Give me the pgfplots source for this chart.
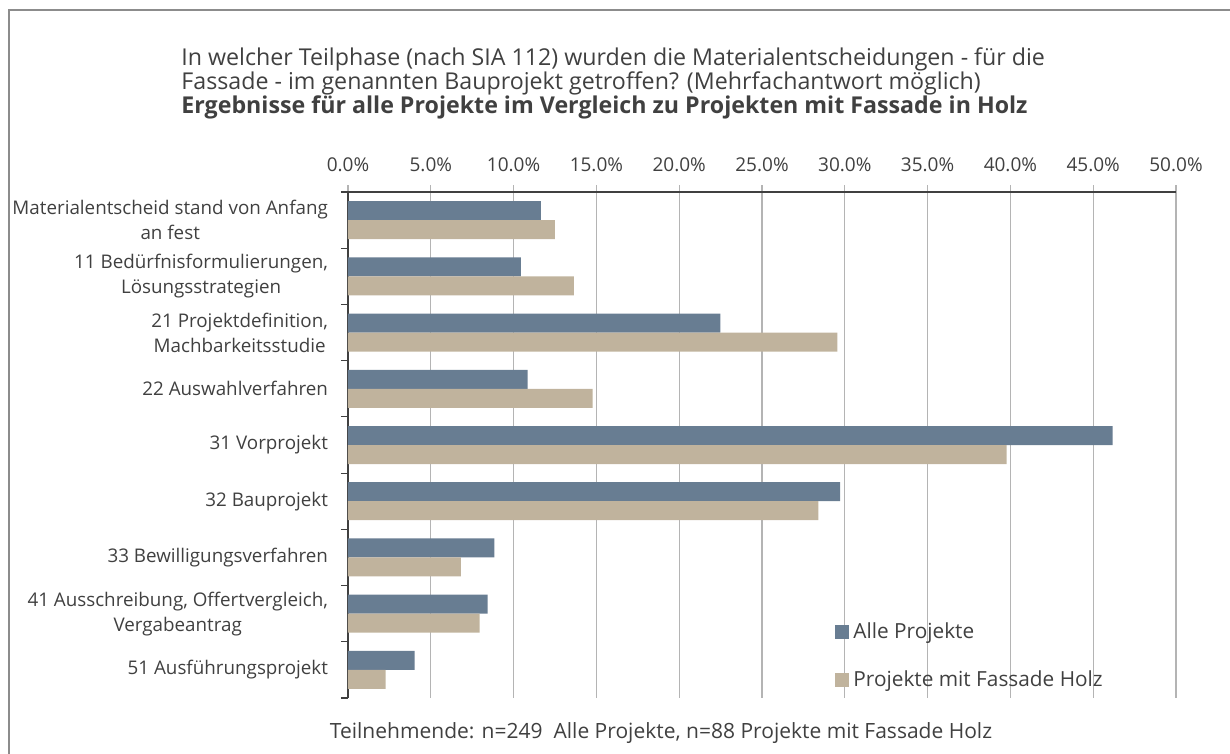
\documentclass[border=0pt]{standalone}
\usepackage{fontspec}
\setmainfont{Open Sans}
\usepackage{pgfplots}
\pgfplotsset{compat=1.18}
\definecolor{alle}{HTML}{687D92}
\definecolor{holz}{HTML}{C0B39D}
\definecolor{txt}{HTML}{404040}
\definecolor{gridc}{HTML}{B4B4B4}
\definecolor{frame}{HTML}{8C8C8C}
\begin{document}
\begin{tikzpicture}
\useasboundingbox (0,0) rectangle (615pt,377pt);
\draw[frame, line width=0.8pt] (4.5pt,-5pt) -- (4.5pt,372pt) -- (625pt,372pt);
\begin{axis}[
    at={(174pt,28pt)}, anchor=south west,
    scale only axis,
    width=414pt, height=253pt,
    xbar, bar width=9.5pt,
    xmin=0, xmax=50,
    ymin=-0.5, ymax=8.5,
    axis x line*=top, axis y line*=left,
    axis line style={txt, line width=0.7pt},
    xtick={0,5,...,50},
    xticklabel={\pgfmathprintnumber[fixed,fixed zerofill,precision=1]{\tick}\%},
    /pgf/number format/assume math mode=true,
    xticklabel style={font=\fontsize{9.5}{11}\selectfont, text=txt, yshift=3pt},
    xmajorgrids, grid style={gridc, line width=0.6pt},
    major tick length=3.5pt, tick align=outside,
    major x tick style={gridc, line width=0.6pt},
    ytick={0,...,8},
    major y tick style={draw=none},
    minor ytick={-0.5,0.5,...,8.5},
    minor y tick style={txt, line width=0.6pt},
    minor tick length=3.5pt,
    yticklabels={
      {51 Ausführungsprojekt},
      {41 Ausschreibung, Offertvergleich,\\Vergabeantrag},
      {33 Bewilligungsverfahren},
      {32 Bauprojekt},
      {31 Vorprojekt},
      {22 Auswahlverfahren},
      {21 Projektdefinition,\\Machbarkeitsstudie},
      {11 Bedürfnisformulierungen,\\Lösungsstrategien},
      {Materialentscheid stand von Anfang\\an fest}},
    yticklabel style={align=center, font=\fontsize{9.4}{12.5}\selectfont, text=txt, xshift=-3pt},
    legend cell align=left,
    legend style={at={(0.581,0.083)}, anchor=west, draw=none, fill=none,
      font=\fontsize{10.4}{12}\selectfont, text=txt, row sep=11pt},
    legend image code/.code={\fill[#1] (0pt,-3.5pt) rectangle (7pt,3.5pt);},
]
\addplot[draw=none, fill=alle, bar shift=4.75pt] coordinates {
  (4.02,0) (8.43,1) (8.84,2) (29.72,3) (46.18,4) (10.84,5) (22.49,6) (10.44,7) (11.65,8)
};
\addplot[draw=none, fill=holz, bar shift=-4.75pt] coordinates {
  (2.27,0) (7.95,1) (6.82,2) (28.41,3) (39.77,4) (14.77,5) (29.55,6) (13.64,7) (12.50,8)
};
\legend{Alle Projekte, Projekte mit Fassade Holz}
\end{axis}
\begin{scope}[font=\fontsize{11.6}{13}\selectfont, text=txt]
\node[anchor=base west, inner sep=0pt] at (90.5pt,344pt) {In welcher Teilphase (nach SIA 112) wurden die Materialentscheidungen - für die};
\node[anchor=base west, inner sep=0pt] at (90.5pt,332pt) {Fassade - im genannten Bauprojekt getroffen? (Mehrfachantwort möglich)};
\node[anchor=base west, inner sep=0pt] at (90.5pt,320pt) {\bfseries Ergebnisse für alle Projekte im Vergleich zu Projekten mit Fassade in Holz};
\end{scope}
\node[font=\fontsize{10.5}{12}\selectfont, text=txt] at (330.5pt,10.5pt) {Teilnehmende: n=249\ \ Alle Projekte, n=88 Projekte mit Fassade Holz};
\end{tikzpicture}
\end{document}
